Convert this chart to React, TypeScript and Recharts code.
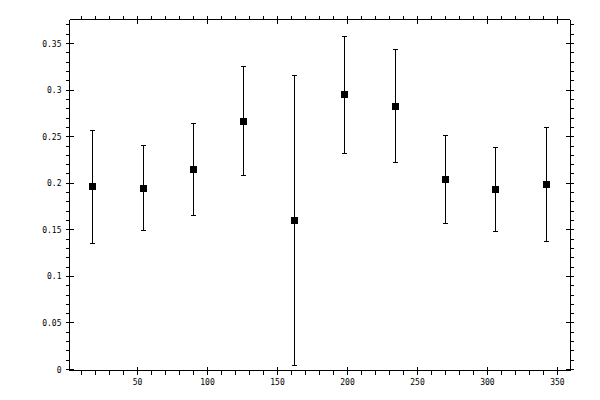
import React from 'react'
import { ScatterChart, Scatter, XAxis, YAxis, ErrorBar } from 'recharts'

// sample positions and measured values (mean with lower / upper bounds)
const xs = [18, 54, 90, 126, 162, 198, 234, 270, 306, 342]
const means = [0.1966, 0.1945, 0.2149, 0.2663, 0.1602, 0.2953, 0.2824, 0.2042, 0.1934, 0.1991]
const highs = [0.2563, 0.2406, 0.2642, 0.3253, 0.3157, 0.3575, 0.3431, 0.2513, 0.2385, 0.2599]
const lows = [0.1355, 0.1494, 0.1656, 0.2084, 0.0047, 0.232, 0.2224, 0.157, 0.1484, 0.1377]

const xMajor = [50, 100, 150, 200, 250, 300, 350]
const yMajor = [0, 0.05, 0.1, 0.15, 0.2, 0.25, 0.3, 0.35]

const xDomain = [1.43, 359.3]
const yDomain = [-0.001, 0.3758]

const rows = xs.map((x, i) => ({
  x,
  y: means[i],
  err: [means[i] - lows[i], highs[i] - means[i]],
}))

// minor ticks every 10 on x, every 0.01 on y
const xTicks: number[] = []
for (let i = 1; i <= 35; i++) xTicks.push(i * 10)
const yTicks: number[] = []
for (let i = 0; i <= 37; i++) yTicks.push(i / 100)

const isXMajor = (v: number) => xMajor.includes(v)
const isYMajor = (v: number) => Math.round(v * 100) % 5 === 0

const font = { fontFamily: '"DejaVu Sans Mono", monospace', fontSize: 8, fill: '#000' }
const crisp = { stroke: '#000', shapeRendering: 'crispEdges' }

function BottomTick({ x, y, payload }: any) {
  const major = isXMajor(payload.value)
  return (
    <g>
      <line x1={x} x2={x} y1={major ? y - 4 : y} y2={y + 4} {...crisp} />
      {major && (
        <text x={x} y={y + 14} textAnchor="middle" {...font}>
          {payload.value}
        </text>
      )}
    </g>
  )
}

function TopTick({ x, y, payload }: any) {
  const major = isXMajor(payload.value)
  return <line x1={x} x2={x} y1={y - 4} y2={major ? y + 4 : y} {...crisp} />
}

function LeftTick({ x, y, payload }: any) {
  const v = Math.round(payload.value * 100) / 100
  const major = isYMajor(v)
  const label = yMajor.find((m) => Math.abs(m - v) < 1e-9)
  return (
    <g>
      <line x1={x - 4} x2={major ? x + 4 : x} y1={y} y2={y} {...crisp} />
      {major && label !== undefined && (
        <text x={x - 8} y={y + 3} textAnchor="end" {...font}>
          {String(label)}
        </text>
      )}
    </g>
  )
}

function RightTick({ x, y, payload }: any) {
  const major = isYMajor(payload.value)
  return <line x1={major ? x - 4 : x} x2={x + 4} y1={y} y2={y} {...crisp} />
}

function Square({ cx, cy }: any) {
  return <rect x={cx - 3.5} y={cy - 3.5} width={7} height={7} fill="#000" shapeRendering="crispEdges" />
}

const Nothing = () => <g />

export default function App() {
  return (
    <div style={{ position: 'absolute', left: 0, top: 0, background: '#fff' }}>
      <ScatterChart width={600} height={400} margin={{ top: 19.5, right: 29.5, bottom: 0, left: 0 }}>
        <XAxis
          xAxisId="b"
          dataKey="x"
          type="number"
          domain={xDomain}
          allowDataOverflow
          ticks={xTicks}
          interval={0}
          height={29.5}
          tickSize={0}
          tickMargin={0}
          tickLine={false}
          axisLine={crisp}
          tick={<BottomTick />}
        />
        <XAxis
          xAxisId="t"
          orientation="top"
          dataKey="x"
          type="number"
          domain={xDomain}
          allowDataOverflow
          ticks={xTicks}
          interval={0}
          height={0.01}
          tickSize={0}
          tickMargin={0}
          tickLine={false}
          axisLine={crisp}
          tick={<TopTick />}
        />
        <YAxis
          yAxisId="l"
          dataKey="y"
          type="number"
          domain={yDomain}
          allowDataOverflow
          ticks={yTicks}
          interval={0}
          width={69.5}
          tickSize={0}
          tickMargin={0}
          tickLine={false}
          axisLine={crisp}
          tick={<LeftTick />}
        />
        <YAxis
          yAxisId="r"
          orientation="right"
          dataKey="y"
          type="number"
          domain={yDomain}
          allowDataOverflow
          ticks={yTicks}
          interval={0}
          width={0.01}
          tickSize={0}
          tickMargin={0}
          tickLine={false}
          axisLine={crisp}
          tick={<RightTick />}
        />
        <Scatter
          xAxisId="t"
          yAxisId="r"
          data={rows}
          dataKey="y"
          shape={<Nothing />}
          isAnimationActive={false}
        />
        <Scatter
          xAxisId="b"
          yAxisId="l"
          data={rows}
          dataKey="y"
          shape={<Square />}
          isAnimationActive={false}
        >
          <ErrorBar
            dataKey="err"
            direction="y"
            width={2.5}
            stroke="#000"
            strokeWidth={1}
            shapeRendering="crispEdges"
            isAnimationActive={false}
          />
        </Scatter>
      </ScatterChart>
    </div>
  )
}
